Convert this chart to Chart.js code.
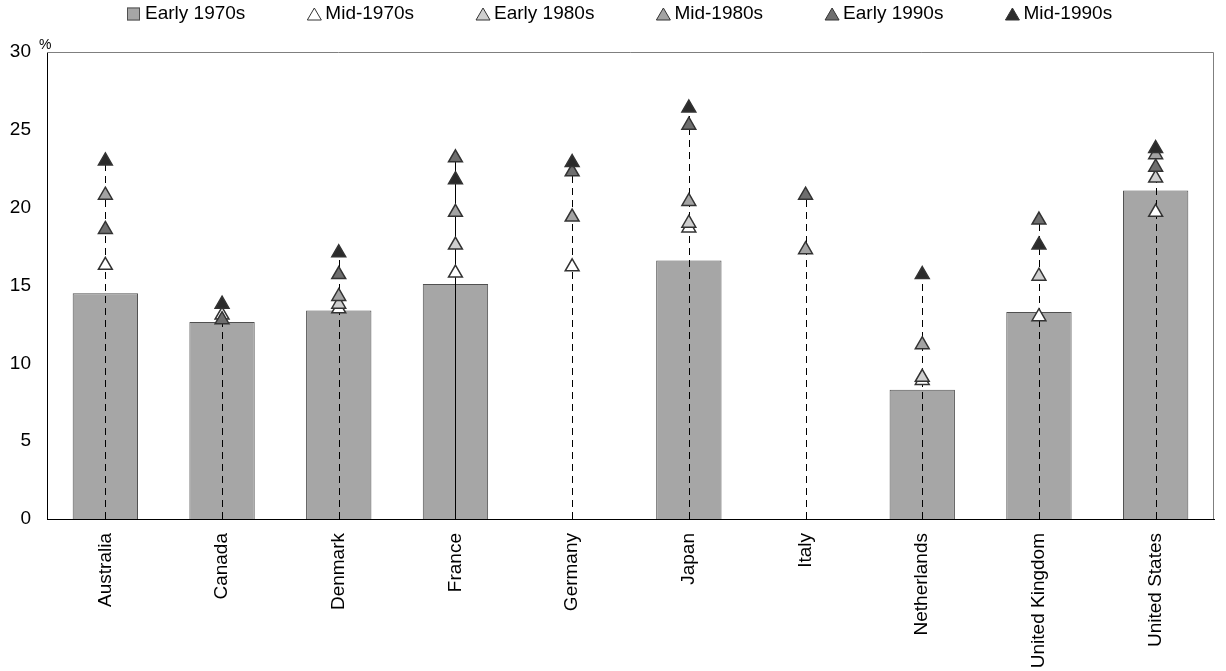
<!DOCTYPE html>
<html>
<head>
<meta charset="utf-8">
<script src="https://cdn.jsdelivr.net/npm/chart.js@4.4.0/dist/chart.umd.min.js"></script>
<style>
  html, body { margin: 0; padding: 0; background: #fff; }
  #wrap { width: 1226px; height: 671px; }
</style>
</head>
<body>
<div id="wrap"><canvas id="chart"></canvas></div>
<script>
/* eslint-disable no-undef */
const countries = ['Australia', 'Canada', 'Denmark', 'France', 'Germany', 'Japan', 'Italy', 'Netherlands', 'United Kingdom', 'United States'];
const early1970s = [14.5, 12.65, 13.4, 15.1, null, 16.6, null, 8.3, 13.3, 21.1];
const mid1970s = [16.3, 13.1, 13.5, 15.8, 16.2, 18.7, null, 8.9, 13.0, 19.7];
const early1980s = [null, null, 13.8, 17.6, null, 19.0, null, 9.1, 15.6, 21.9];
const mid1980s = [20.8, null, 14.3, 19.7, 19.4, 20.4, 17.3, 11.2, null, 23.4];
const early1990s = [18.6, 12.8, 15.7, 23.2, 22.3, 25.3, 20.8, null, 19.2, 22.6];
const mid1990s = [23.0, 13.8, 17.1, 21.8, 22.9, 26.4, null, 15.7, 17.6, 23.8];
const yTicks = [0, 5, 10, 15, 20, 25, 30];

const FONT = '"Liberation Sans", Arial, sans-serif';

// séries en triangles
const triSeries = [
  { label: 'Mid-1970s', data: mid1970s, color: '#ffffff' },
  { label: 'Early 1980s', data: early1980s, color: '#cfcfcf' },
  { label: 'Mid-1980s', data: mid1980s, color: '#a3a3a3' },
  { label: 'Early 1990s', data: early1990s, color: '#6e6e6e' },
  { label: 'Mid-1990s', data: mid1990s, color: '#2b2b2b' },
];

function triangle(ctx, cx, cy, fill) {
  ctx.beginPath();
  ctx.moveTo(cx, cy - 7);
  ctx.lineTo(cx + 7, cy + 5);
  ctx.lineTo(cx - 7, cy + 5);
  ctx.closePath();
  ctx.fillStyle = fill;
  ctx.fill();
  ctx.strokeStyle = '#333';
  ctx.lineWidth = 1;
  ctx.stroke();
}

const extras = {
  id: 'extras',
  // lignes verticales en pointillé (France en trait plein dans l'original)
  afterDatasetDraw(chart, args) {
    if (args.index !== 0) return;
    const { ctx } = chart;
    const x = chart.scales.x;
    const y = chart.scales.y;
    ctx.save();
    ctx.strokeStyle = '#000';
    ctx.lineWidth = 1;
    countries.forEach((c, i) => {
      const vals = triSeries.map((s) => s.data[i]).concat([early1970s[i]]).filter((v) => v !== null);
      const top = Math.max(...vals);
      const px = Math.round(x.getPixelForValue(i)) + 0.5;
      ctx.setLineDash(c === 'France' ? [] : [7, 5]);
      ctx.beginPath();
      ctx.moveTo(px, y.getPixelForValue(0));
      ctx.lineTo(px, y.getPixelForValue(top));
      ctx.stroke();
    });
    ctx.restore();
  },
  afterDraw(chart) {
    const { ctx, chartArea } = chart;
    ctx.save();
    // cadre
    ctx.strokeStyle = '#7f7f7f';
    ctx.lineWidth = 1;
    ctx.beginPath();
    ctx.moveTo(chartArea.left, chartArea.top + 0.5);
    ctx.lineTo(chartArea.right - 0.5, chartArea.top + 0.5);
    ctx.lineTo(chartArea.right - 0.5, chartArea.bottom);
    ctx.stroke();
    // unité
    ctx.fillStyle = '#000';
    ctx.font = '14px ' + FONT;
    ctx.textAlign = 'left';
    ctx.textBaseline = 'alphabetic';
    ctx.fillText('%', chartArea.left - 8, chartArea.top - 3);
    // légende
    ctx.font = '19px ' + FONT;
    ctx.textBaseline = 'middle';
    let lx = 127;
    const ly = 14;
    chart.data.datasets.forEach((ds) => {
      if (ds.type === 'bar') {
        ctx.fillStyle = ds.backgroundColor;
        ctx.fillRect(lx, ly - 6.5, 13, 13);
        ctx.strokeStyle = ds.borderColor;
        ctx.lineWidth = 1;
        ctx.strokeRect(lx + 0.5, ly - 6, 12, 12);
      } else {
        triangle(ctx, lx + 7, ly + 1, ds.pointBackgroundColor);
      }
      ctx.fillStyle = '#000';
      ctx.fillText(ds.label, lx + 18, ly);
      lx += 18 + ctx.measureText(ds.label).width + 62;
    });
    ctx.restore();
  },
};

const datasets = [{
  type: 'bar',
  label: 'Early 1970s',
  data: early1970s,
  backgroundColor: '#a6a6a6',
  borderColor: '#505050',
  borderWidth: 1,
  barPercentage: 0.56,
  categoryPercentage: 1,
  order: 10,
}];
triSeries.forEach((s, k) => {
  datasets.push({
    type: 'line',
    label: s.label,
    data: s.data,
    showLine: false,
    pointStyle: 'triangle',
    pointRadius: 8,
    pointHoverRadius: 8,
    pointBackgroundColor: s.color,
    pointBorderColor: '#333333',
    pointBorderWidth: 1.5,
    order: 5 - k,
  });
});

new Chart(document.getElementById('chart').getContext('2d'), {
  data: { labels: countries, datasets },
  options: {
    responsive: true,
    maintainAspectRatio: false,
    animation: false,
    layout: { padding: { left: 0, right: 12, top: 52, bottom: 0 } },
    plugins: {
      tooltip: { enabled: false },
      legend: { display: false },
    },
    scales: {
      x: {
        grid: { display: false },
        border: { display: true, color: '#000', width: 1 },
        ticks: {
          color: '#000',
          font: { family: FONT, size: 19 },
          minRotation: 90,
          maxRotation: 90,
          padding: 6,
          autoSkip: false,
        },
        afterFit(scale) { scale.height = 152; },
      },
      y: {
        min: 0,
        max: 30,
        grid: { display: false },
        border: { display: true, color: '#000', width: 1 },
        afterBuildTicks(scale) { scale.ticks = yTicks.map((v) => ({ value: v })); },
        ticks: {
          color: '#000',
          font: { family: FONT, size: 19 },
          padding: 8,
        },
        afterFit(scale) { scale.width = 47; },
      },
    },
  },
  plugins: [extras],
});
</script>
</body>
</html>
